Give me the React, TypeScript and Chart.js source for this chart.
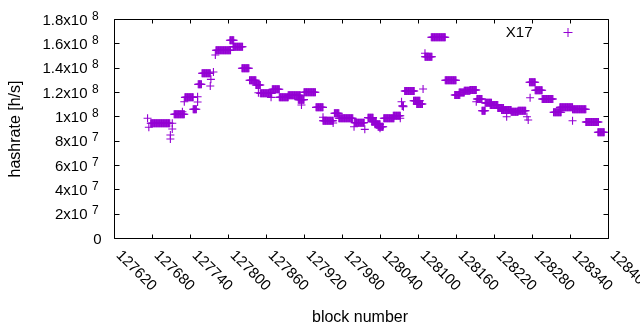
import React, { useEffect, useRef } from "react";
import Chart from "chart.js/auto";

// Runs of blocks that share one hashrate value (values in 1e6 h/s)
const segStart = [127678, 127715, 127732, 127745, 127753, 127759, 127781, 127803, 127808, 127822, 127834, 127844, 127851, 127870, 127881, 127895, 127911, 127920, 127939, 127950, 127968, 127975, 128000, 128021, 128027, 128032, 128037, 128046, 128061, 128075, 128079, 128093, 128098, 128111, 128121, 128143, 128158, 128165, 128173, 128182, 128193, 128201, 128206, 128214, 128226, 128232, 128247, 128258, 128276, 128285, 128296, 128314, 128324, 128344, 128365, 128384];
const segEnd = [127708, 127731, 127745, 127750, 127758, 127772, 127804, 127809, 127823, 127833, 127844, 127851, 127869, 127881, 127895, 127914, 127920, 127938, 127950, 127966, 127975, 127997, 128015, 128029, 128034, 128040, 128045, 128062, 128072, 128077, 128094, 128103, 128107, 128122, 128143, 128160, 128166, 128173, 128182, 128192, 128201, 128206, 128216, 128226, 128235, 128247, 128258, 128270, 128285, 128296, 128313, 128326, 128344, 128365, 128385, 128394];
const segValue = [94.3, 101.7, 115.6, 105.8, 126.3, 135.4, 154.3, 162.5, 157.2, 139.5, 129.6, 125.8, 118.9, 122.2, 115.6, 117.3, 113.7, 119.8, 107.4, 96.4, 102.5, 98.4, 94.8, 98.9, 95.6, 93.5, 91.5, 98.4, 100.5, 108.5, 120.8, 112.8, 110.1, 149.0, 165.0, 129.6, 117.5, 119.6, 121.0, 121.6, 114.2, 104.6, 111.1, 109.3, 106.8, 105.2, 103.8, 104.6, 128.0, 121.4, 114.2, 103.3, 107.4, 105.8, 95.3, 86.9];

// Isolated blocks (values in 1e6 h/s)
const singleBlock = [127673, 127675, 127712, 127712, 127709, 127709, 127728, 127731, 127752, 127752, 127777, 127773, 127772, 127780, 127848, 127868, 127916, 127950, 127966, 127999, 128016, 128040, 128072, 128074, 128077, 128108, 128111, 128192, 128240, 128272, 128274, 128277, 128344];
const singleValue = [98.4, 91.0, 94.3, 89.6, 84.7, 81.4, 103.8, 112.0, 116.1, 111.8, 136.4, 130.4, 124.9, 150.4, 119.4, 115.6, 109.3, 99.2, 94.5, 91.5, 89.3, 90.2, 98.4, 112.0, 107.9, 122.5, 151.8, 112.0, 99.7, 99.7, 97.0, 115.3, 96.4];

const xTicks = [127620, 127680, 127740, 127800, 127860, 127920, 127980, 128040, 128100, 128160, 128220, 128280, 128340, 128400];
const yTicks = [0, 2e7, 4e7, 6e7, 8e7, 1e8, 1.2e8, 1.4e8, 1.6e8, 1.8e8];
const yTickMain = ["0", "2x10", "4x10", "6x10", "8x10", "1x10", "1.2x10", "1.4x10", "1.6x10", "1.8x10"];
const yTickSup = ["", "7", "7", "7", "7", "8", "8", "8", "8", "8"];
const seriesName = "X17";
const xTitle = "block number";
const yTitle = "hashrate [h/s]";

const COLOR = "rgb(148,0,211)";
const FONT = "'Liberation Sans', Arial, sans-serif";

const framePlugin = {
  id: "gnuframe",
  afterDatasetsDraw(chart: any) {
    const { ctx, chartArea: a, scales } = chart;
    const xs = scales.x;
    const ys = scales.y;
    ctx.save();
    ctx.strokeStyle = "#000";
    ctx.lineWidth = 1;
    const L = Math.round(a.left) + 0.5;
    const R = Math.round(a.right) + 0.5;
    const T = Math.round(a.top) + 0.5;
    const B = Math.round(a.bottom) + 0.5;
    ctx.beginPath();
    ctx.rect(L, T, R - L, B - T);
    ctx.stroke();
    ctx.beginPath();
    yTicks.forEach((v) => {
      const py = Math.round(ys.getPixelForValue(v)) + 0.5;
      ctx.moveTo(L, py);
      ctx.lineTo(L + 5, py);
      ctx.moveTo(R, py);
      ctx.lineTo(R - 5, py);
    });
    xTicks.forEach((v) => {
      const px = Math.round(xs.getPixelForValue(v)) + 0.5;
      ctx.moveTo(px, B);
      ctx.lineTo(px, B - 4);
      ctx.moveTo(px, T);
      ctx.lineTo(px, T + 4);
    });
    ctx.stroke();

    ctx.fillStyle = "#000";
    // y tick labels
    yTicks.forEach((v, i) => {
      const py = ys.getPixelForValue(v);
      ctx.textBaseline = "alphabetic";
      if (yTickSup[i]) {
        ctx.font = `15px ${FONT}`;
        ctx.textAlign = "right";
        ctx.fillText(yTickMain[i], 87.5, py + 5.5);
        ctx.font = `12px ${FONT}`;
        ctx.textAlign = "left";
        ctx.fillText(yTickSup[i], 92, py + 0.5);
      } else {
        ctx.font = `15px ${FONT}`;
        ctx.textAlign = "right";
        ctx.fillText(yTickMain[i], 101.5, py + 5.5);
      }
    });
    // x tick labels, rotated clockwise
    ctx.font = `15px ${FONT}`;
    xTicks.forEach((v) => {
      const px = xs.getPixelForValue(v);
      ctx.save();
      ctx.translate(px + 4.5, a.bottom + 15);
      ctx.rotate(Math.PI / 4);
      ctx.textAlign = "left";
      ctx.textBaseline = "middle";
      ctx.fillText(String(v), 0, 0);
      ctx.restore();
    });
    // axis titles
    ctx.font = `16px ${FONT}`;
    ctx.textAlign = "center";
    ctx.textBaseline = "alphabetic";
    ctx.fillText(xTitle, (a.left + a.right) / 2 - 1, 321.5);
    ctx.save();
    ctx.translate(15.5, 129);
    ctx.rotate(-Math.PI / 2);
    ctx.textBaseline = "middle";
    ctx.fillText(yTitle, 0, 0);
    ctx.restore();
    // key
    ctx.font = `15px ${FONT}`;
    ctx.textAlign = "right";
    ctx.textBaseline = "alphabetic";
    ctx.fillText(seriesName, 532.5, 37.3);
    ctx.strokeStyle = COLOR;
    ctx.beginPath();
    ctx.moveTo(563.5, 32.5);
    ctx.lineTo(572.5, 32.5);
    ctx.moveTo(568, 28);
    ctx.lineTo(568, 37);
    ctx.stroke();
    ctx.restore();
  },
};

export default function App() {
  const ref = useRef<HTMLCanvasElement | null>(null);
  useEffect(() => {
    if (!ref.current) return;
    const points: { x: number; y: number }[] = [];
    segStart.forEach((s, i) => {
      for (let b = s; b <= segEnd[i]; b++) points.push({ x: b, y: segValue[i] * 1e6 });
    });
    singleBlock.forEach((b, i) => points.push({ x: b, y: singleValue[i] * 1e6 }));
    const chart = new Chart(ref.current, {
      type: "scatter",
      data: {
        datasets: [
          {
            label: seriesName,
            data: points,
            pointStyle: "cross",
            pointRadius: 4,
            pointBorderWidth: 1.1,
            borderColor: COLOR,
            backgroundColor: COLOR,
            showLine: false,
          },
        ],
      },
      options: {
        responsive: false,
        animation: false,
        devicePixelRatio: 1,
        events: [],
        layout: { padding: { left: 114, right: 32, top: 19, bottom: 92 } },
        plugins: { legend: { display: false }, tooltip: { enabled: false } },
        scales: {
          x: {
            type: "linear",
            min: 127620,
            max: 128400,
            ticks: { display: false },
            grid: { display: false, drawTicks: false },
            border: { display: false },
          },
          y: {
            type: "linear",
            min: 0,
            max: 1.8e8,
            ticks: { display: false },
            grid: { display: false, drawTicks: false },
            border: { display: false },
          },
        },
      },
      plugins: [framePlugin],
    });
    return () => chart.destroy();
  }, []);
  return (
    <div style={{ position: "absolute", left: 0, top: 0, width: 640, height: 330, background: "#fff" }}>
      <canvas ref={ref} width={640} height={330} style={{ display: "block" }} />
    </div>
  );
}
